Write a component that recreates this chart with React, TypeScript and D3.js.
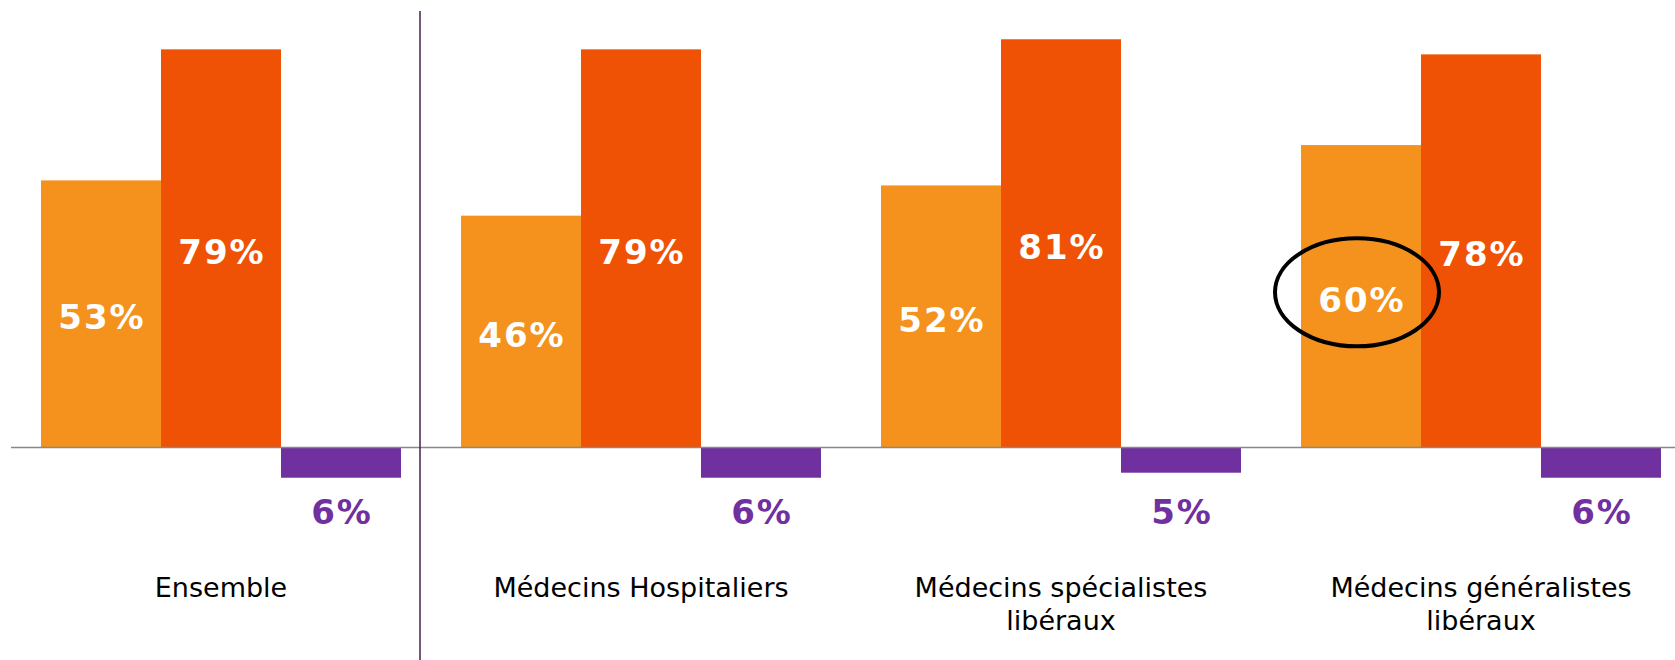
import { useEffect, useRef } from 'react';
import * as d3 from 'd3';

const categories = ['Ensemble', 'Médecins Hospitaliers', 'Médecins spécialistes libéraux', 'Médecins généralistes libéraux'];
const categoryLines = [['Ensemble'], ['Médecins Hospitaliers'], ['Médecins spécialistes', 'libéraux'], ['Médecins généralistes', 'libéraux']];
const series = ['a', 'b', 'c'];
const seriesColors = ['#F5921E', '#F05205', '#7030A0'];
const valuesA = [53, 46, 52, 60];
const valuesB = [79, 79, 81, 78];
const valuesC = [-6, -6, -5, -6];
const highlighted = { category: 'Médecins généralistes libéraux', series: 'a' };

const W = 1675;
const H = 660;

export default function App() {
	const svgRef = useRef<SVGSVGElement>(null);

	useEffect(() => {
		if (!svgRef.current) return;
		const svg = d3.select(svgRef.current);
		svg.selectAll('*').remove();

		const font = 'DejaVu Sans, Verdana, sans-serif';
		const baseY = 447.5;

		const x0 = d3.scaleBand<string>().domain(categories).range([11, 1691]).paddingInner(1 / 7).paddingOuter(1 / 14);
		const x1 = d3.scaleBand<string>().domain(series).range([0, x0.bandwidth()]).padding(0);
		const y = d3.scaleLinear().domain([0, 100]).range([baseY, baseY - 504]);

		const allSeries = [valuesA, valuesB, valuesC];
		const rows = categories.flatMap((c, ci) =>
			series.map((s, si) => ({ c, s, si, v: allSeries[si][ci] }))
		);

		const g = svg.append('g');

		// bars
		g.selectAll('rect.bar')
			.data(rows)
			.enter()
			.append('rect')
			.attr('class', 'bar')
			.attr('x', (d) => x0(d.c)! + x1(d.s)!)
			.attr('width', x1.bandwidth())
			.attr('y', (d) => y(Math.max(0, d.v)))
			.attr('height', (d) => Math.abs(y(d.v) - y(0)))
			.attr('fill', (d) => seriesColors[d.si]);

		// baseline
		g.append('line')
			.attr('x1', 11)
			.attr('x2', W)
			.attr('y1', y(0))
			.attr('y2', y(0))
			.attr('stroke', '#888888')
			.attr('stroke-width', 1.6);

		// separator
		g.append('line')
			.attr('x1', 420)
			.attr('x2', 420)
			.attr('y1', 11)
			.attr('y2', H)
			.attr('stroke', '#4B1E4F')
			.attr('stroke-width', 1.5);

		// value labels inside positive bars
		g.selectAll('text.val')
			.data(rows.filter((d) => d.v > 0))
			.enter()
			.append('text')
			.attr('class', 'val')
			.attr('x', (d) => x0(d.c)! + x1(d.s)! + x1.bandwidth() / 2 + 1)
			.attr('y', (d) => y(d.v / 2) + 15.5)
			.attr('text-anchor', 'middle')
			.attr('font-family', font)
			.attr('font-weight', 'bold')
			.attr('font-size', 34)
			.attr('letter-spacing', 2)
			.attr('fill', '#ffffff')
			.text((d) => `${d.v}%`);

		// labels under negative bars
		const negY = y(d3.min(valuesC)!) + 46;
		g.selectAll('text.neg')
			.data(rows.filter((d) => d.v < 0))
			.enter()
			.append('text')
			.attr('class', 'neg')
			.attr('x', (d) => x0(d.c)! + x1(d.s)! + x1.bandwidth() / 2 + 1)
			.attr('y', negY)
			.attr('text-anchor', 'middle')
			.attr('font-family', font)
			.attr('font-weight', 'bold')
			.attr('font-size', 34)
			.attr('letter-spacing', 2)
			.attr('fill', '#7030A0')
			.text((d) => `${Math.abs(d.v)}%`);

		// category labels
		categories.forEach((c, ci) => {
			const t = g
				.append('text')
				.attr('x', x0(c)! + x0.bandwidth() / 2)
				.attr('y', 597)
				.attr('text-anchor', 'middle')
				.attr('font-family', font)
				.attr('font-size', 27)
				.attr('fill', '#000000');
			categoryLines[ci].forEach((line, li) => {
				t.append('tspan')
					.attr('x', x0(c)! + x0.bandwidth() / 2)
					.attr('dy', li === 0 ? 0 : 33)
					.text(line);
			});
		});

		// highlight ellipse
		const hv = valuesA[categories.indexOf(highlighted.category)];
		g.append('ellipse')
			.attr('cx', x0(highlighted.category)! + x1(highlighted.series)! + x1.bandwidth() / 2 - 4)
			.attr('cy', y(hv / 2) - 4)
			.attr('rx', 82)
			.attr('ry', 54)
			.attr('fill', 'none')
			.attr('stroke', '#000000')
			.attr('stroke-width', 4);
	}, []);

	return (
		<svg
			ref={svgRef}
			width={W}
			height={H}
			style={{ position: 'absolute', left: 0, top: 0, background: '#ffffff' }}
		/>
	);
}
